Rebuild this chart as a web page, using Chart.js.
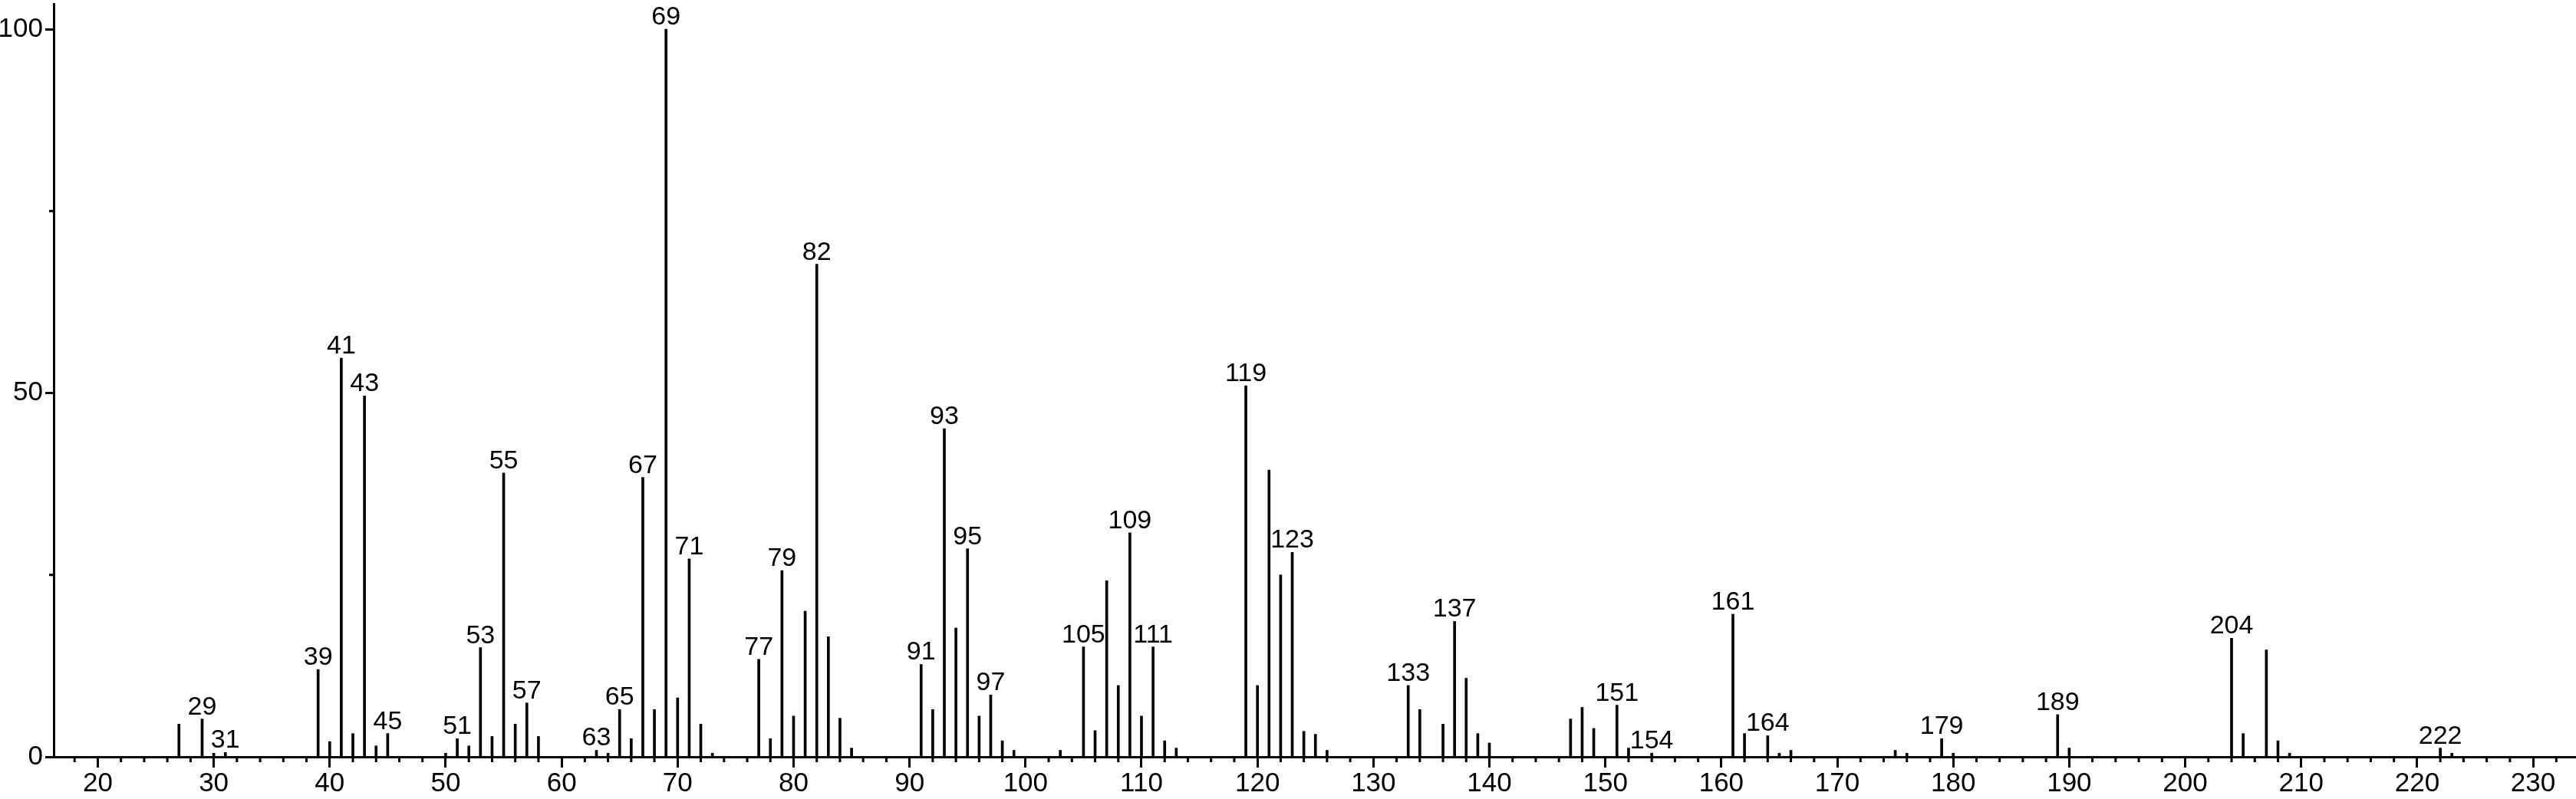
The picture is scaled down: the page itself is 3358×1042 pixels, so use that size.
<!DOCTYPE html>
<html>
<head>
<meta charset="utf-8">
<script src="https://cdn.jsdelivr.net/npm/chart.js@4.4.1/dist/chart.umd.min.js"></script>
<style>
  html, body { margin: 0; padding: 0; background: #fff; }
  canvas { display: block; }
</style>
</head>
<body>
<canvas id="spectrum" width="3358" height="1042"></canvas>
<script>
// m/z values and relative intensities
const mzValues = [
  27, 29, 30, 31, 39, 40, 41, 42, 43, 44, 45, 50, 51, 52, 53, 54, 55, 56, 57, 58,
  63, 64, 65, 66, 67, 68, 69, 70, 71, 72, 73, 77, 78, 79, 80, 81, 82, 83, 84, 85,
  91, 92, 93, 94, 95, 96, 97, 98, 99, 103, 105, 106, 107, 108, 109, 110, 111, 112, 113,
  119, 120, 121, 122, 123, 124, 125, 126, 133, 134, 136, 137, 138, 139, 140,
  147, 148, 149, 151, 152, 154, 161, 162, 164, 165, 166, 175, 176, 179, 180,
  189, 190, 204, 205, 207, 208, 209, 222, 223
];
const intensities = [
  4.5, 5.2, 0.5, 0.6, 12.0, 2.1, 54.8, 3.2, 49.6, 1.5, 3.2, 0.5, 2.5, 1.5, 15.0, 2.8, 39.0, 4.5, 7.4, 2.8,
  0.9, 0.5, 6.5, 2.5, 38.4, 6.5, 100, 8.1, 27.2, 4.5, 0.5, 13.4, 2.5, 25.6, 5.6, 20.0, 67.7, 16.5, 5.3, 1.2,
  12.7, 6.5, 45.1, 17.7, 28.6, 5.6, 8.5, 2.2, 0.9, 0.9, 15.1, 3.6, 24.2, 9.8, 30.8, 5.6, 15.1, 2.2, 1.2,
  51.0, 9.8, 39.4, 25.0, 28.1, 3.5, 3.1, 0.9, 9.8, 6.5, 4.5, 18.6, 10.8, 3.2, 1.9,
  5.2, 6.8, 3.9, 7.1, 1.2, 0.5, 19.6, 3.2, 2.9, 0.5, 0.9, 0.9, 0.5, 2.5, 0.5,
  5.8, 1.2, 16.3, 3.2, 14.7, 2.2, 0.5, 1.2, 0.5
];
// peaks that carry their m/z as a label
const labeledPeaks = [
  29, 31, 39, 41, 43, 45, 51, 53, 55, 57, 63, 65, 67, 69, 71, 77, 79, 82,
  91, 93, 95, 97, 105, 109, 111, 119, 123, 133, 137, 151, 154, 161, 164,
  179, 189, 204, 222
];

const FONT = '"Liberation Sans", Arial, sans-serif';

// short ticks every 2 on x, at 25/75 on y
const minorTicks = {
  id: 'minorTicks',
  afterDraw(chart) {
    const ctx = chart.ctx;
    const x = chart.scales.x;
    const y = chart.scales.y;
    ctx.save();
    ctx.strokeStyle = '#000';
    ctx.lineWidth = 3;
    ctx.beginPath();
    for (let v = 18; v <= 232; v += 2) {
      if (v % 10 === 0) continue;
      const px = x.getPixelForValue(v);
      ctx.moveTo(px, x.top);
      ctx.lineTo(px, x.top + 7);
    }
    [25, 75].forEach(v => {
      const py = y.getPixelForValue(v);
      ctx.moveTo(y.right, py);
      ctx.lineTo(y.right - 6, py);
    });
    ctx.stroke();
    ctx.restore();
  }
};

// m/z numbers above the labelled peaks
const peakLabels = {
  id: 'peakLabels',
  afterDatasetsDraw(chart) {
    const ctx = chart.ctx;
    const meta = chart.getDatasetMeta(0);
    ctx.save();
    ctx.fillStyle = '#000';
    ctx.font = '34px ' + FONT;
    ctx.textAlign = 'center';
    ctx.textBaseline = 'alphabetic';
    labeledPeaks.forEach(mz => {
      const i = mzValues.indexOf(mz);
      if (i < 0) return;
      const bar = meta.data[i];
      ctx.fillText(String(mz), bar.x, bar.y - 6);
    });
    ctx.restore();
  }
};

new Chart(document.getElementById('spectrum'), {
  type: 'bar',
  data: {
    datasets: [{
      data: mzValues.map((m, i) => ({ x: m, y: intensities[i] })),
      backgroundColor: '#000',
      borderWidth: 0,
      barThickness: 3
    }]
  },
  options: {
    responsive: false,
    animation: false,
    devicePixelRatio: 1,
    layout: { padding: { top: 5, left: 0, right: 0, bottom: 0 } },
    plugins: {
      legend: { display: false },
      tooltip: { enabled: false }
    },
    scales: {
      x: {
        type: 'linear',
        min: 16.2,
        max: 233.7,
        offset: false,
        grid: {
          offset: false,
          drawOnChartArea: false,
          drawTicks: true,
          tickLength: 14,
          tickWidth: 3,
          tickColor: '#000'
        },
        border: { display: true, color: '#000', width: 3 },
        ticks: {
          stepSize: 10,
          includeBounds: false,
          autoSkip: false,
          maxRotation: 0,
          padding: 0,
          color: '#000',
          font: { family: FONT, size: 35 }
        },
        afterFit(scale) {
          scale.height = 55;
          scale.paddingLeft = 0;
          scale.paddingRight = 0;
        }
      },
      y: {
        min: 0,
        max: 103.48,
        grid: {
          drawOnChartArea: false,
          drawTicks: true,
          tickLength: 11,
          tickWidth: 3,
          tickColor: '#000'
        },
        border: { display: true, color: '#000', width: 3 },
        ticks: {
          stepSize: 50,
          includeBounds: false,
          padding: 3,
          color: '#000',
          font: { family: FONT, size: 35 }
        },
        afterFit(scale) {
          scale.width = 70;
          scale.paddingTop = 0;
          scale.paddingBottom = 0;
        }
      }
    }
  },
  plugins: [minorTicks, peakLabels]
});
</script>
</body>
</html>
